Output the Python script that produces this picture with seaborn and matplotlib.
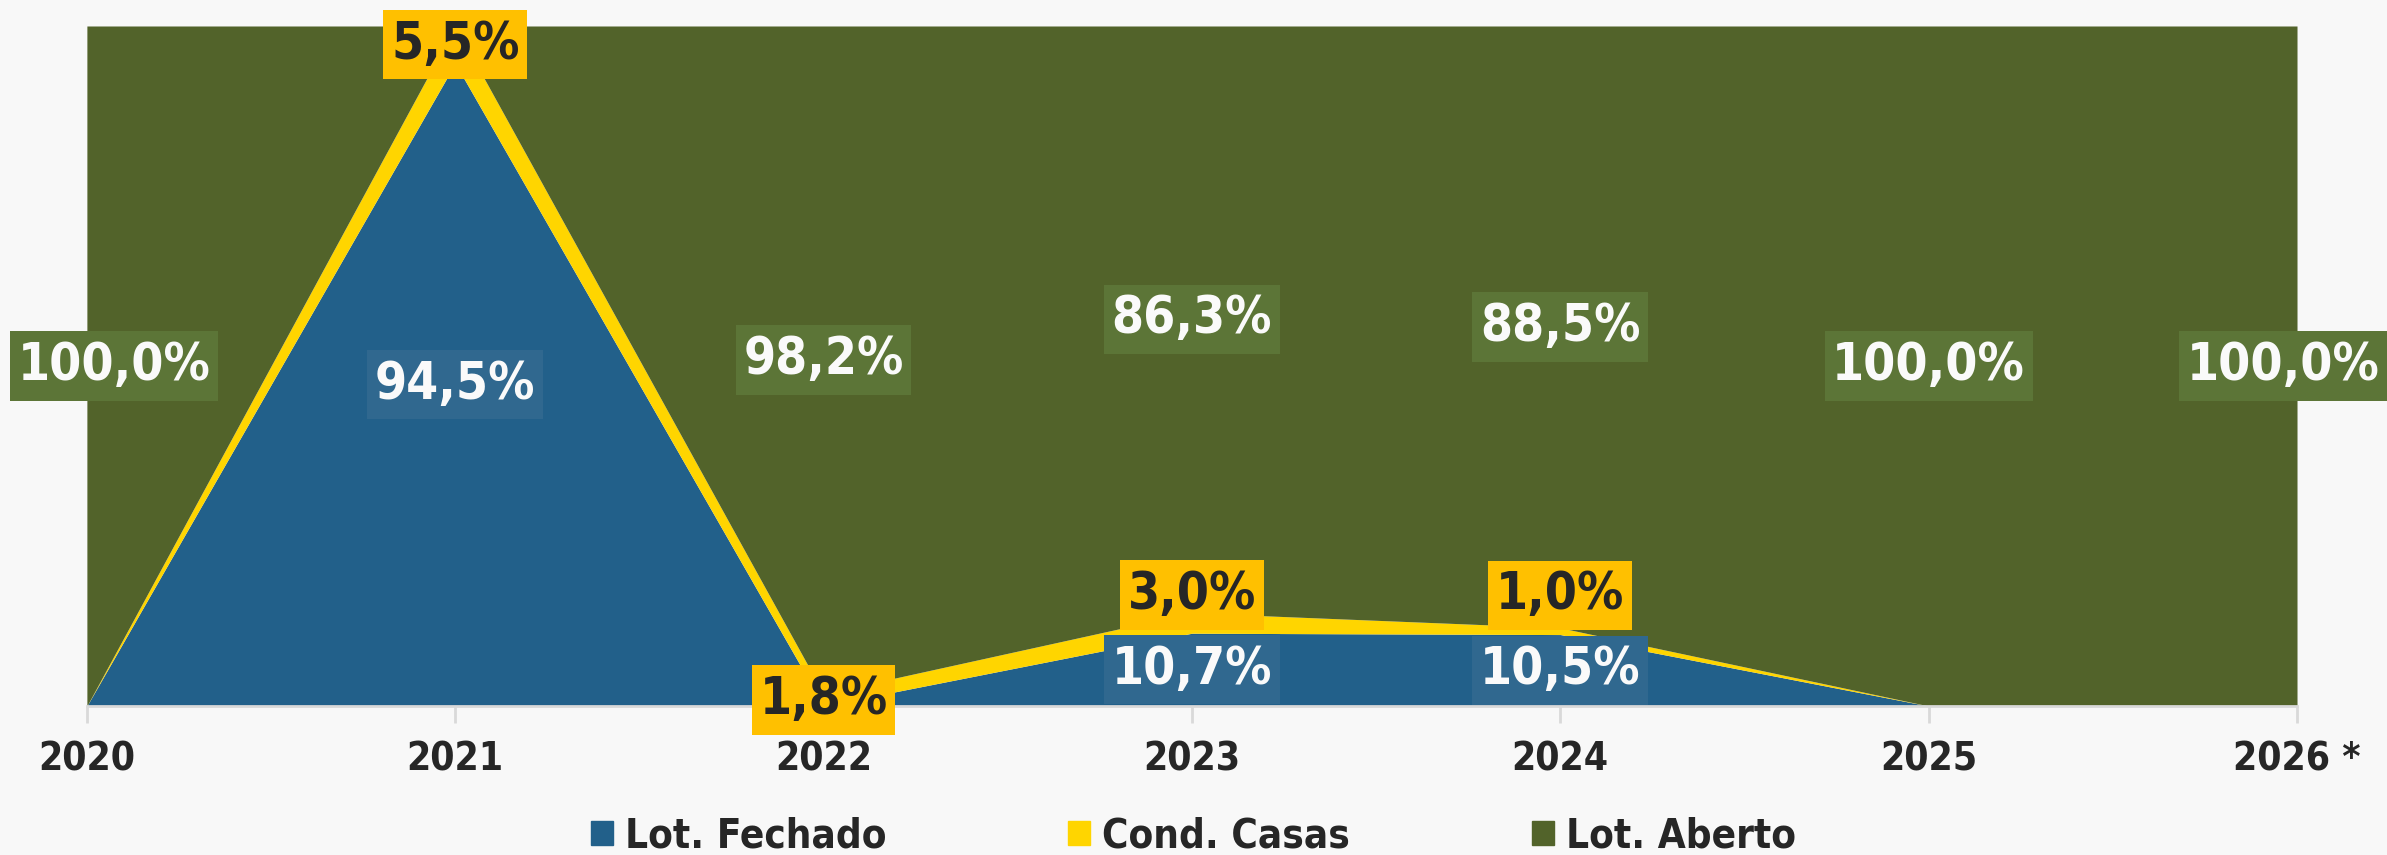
import matplotlib
matplotlib.use("Agg")
import matplotlib.pyplot as plt
import matplotlib.patches as mpatches
import matplotlib.transforms as mtransforms
from matplotlib.path import Path
import numpy as np
import seaborn as sns

# chart data (percent share per year)
years = ["2020", "2021", "2022", "2023", "2024", "2025", "2026 *"]
series_names = ["Lot. Fechado", "Cond. Casas", "Lot. Aberto"]
lot_fechado = [0.0, 94.5, 0.0, 10.7, 10.5, 0.0, 0.0]
cond_casas = [0.0, 5.5, 1.8, 3.0, 1.0, 0.0, 0.0]
lot_aberto = [100.0, 0.0, 98.2, 86.3, 88.5, 100.0, 100.0]

area_colors = ["#22608a", "#ffd500", "#52632a"]
box_colors = ["#30688f", "#ffc000", "#5c7537"]
text_colors = ["#fafafa", "#262626", "#fafafa"]
bg = "#f8f8f8"

sns.set_theme(style="white")
plt.rcParams["font.family"] = ["DejaVu Sans"]
plt.rcParams["font.weight"] = "bold"
plt.rcParams["font.stretch"] = "condensed"


def label_box(x0, y0, width, height, mutation_size):
    # rectangle, a bit more padding above/below than left/right
    px = 0.15 * mutation_size
    py = 0.19 * mutation_size
    x0, y0 = x0 - px, y0 - py
    x1, y1 = x0 + width + 2 * px, y0 + height + 2 * py
    return Path([(x0, y0), (x1, y0), (x1, y1), (x0, y1), (x0, y0)], closed=True)


fig = plt.figure(figsize=(23.87, 8.55), dpi=100, facecolor=bg)
ax = fig.add_axes([0.0364, 0.1743, 0.9259, 0.7953])
ax.set_facecolor(bg)

x = np.arange(len(years))
values = [lot_fechado, cond_casas, lot_aberto]
ax.stackplot(x, *values, colors=area_colors, linewidth=0)

ax.set_xlim(0, len(years) - 1)
ax.set_ylim(0, 100)
ax.set_yticks([])
ax.set_xticks(x)
ax.set_xticklabels(years, fontsize=28, fontweight="bold", color="#262626")
ax.tick_params(axis="x", bottom=True, length=12, width=2, color="#d9d9d9", pad=13)
for side in ["left", "right", "top"]:
    ax.spines[side].set_visible(False)
ax.spines["bottom"].set_color("#d9d9d9")
ax.spines["bottom"].set_linewidth(2)

# data labels
labels = []
for i in range(len(years)):
    base = 0.0
    blue_mid = None
    for s, vals in enumerate(values):
        v = vals[i]
        if v > 0:
            mid = base + v / 2
            if s == 0:
                blue_mid = mid
            # move the small Cond. Casas label clear of the Lot. Fechado label
            if s == 1 and blue_mid is not None and mid - blue_mid < 11:
                mid = blue_mid + 11
            txt = f"{v:.1f}%".replace(".", ",")
            t = ax.text(i, mid, txt, ha="center", va="center", fontsize=37,
                        fontweight="bold", color=text_colors[s], zorder=5,
                        clip_on=False,
                        bbox=dict(boxstyle=label_box, fc=box_colors[s], ec="none"))
            labels.append(t)
        base += v

# legend
handles = [mpatches.Patch(color=c, label=n) for c, n in zip(area_colors, series_names)]
leg = fig.legend(handles=handles, loc="center", bbox_to_anchor=(0.5, 0.022), ncol=3,
                 frameon=False, fontsize=29, handlelength=0.55, handleheight=0.55,
                 handletextpad=0.3, columnspacing=4.5)
for t in leg.get_texts():
    t.set_color("#262626")
    t.set_fontweight("bold")

# keep labels inside the figure edges
fig.canvas.draw()
renderer = fig.canvas.get_renderer()
W = fig.bbox.width
for t in labels:
    ext = t.get_bbox_patch().get_window_extent(renderer)
    dx = 0
    if ext.x0 < 10:
        dx = 10 - ext.x0
    elif ext.x1 > W:
        dx = W - ext.x1
    if dx:
        t.set_transform(mtransforms.offset_copy(ax.transData, fig, x=dx, y=0, units="dots"))

fig.savefig("out.png", dpi=100, facecolor=bg)
